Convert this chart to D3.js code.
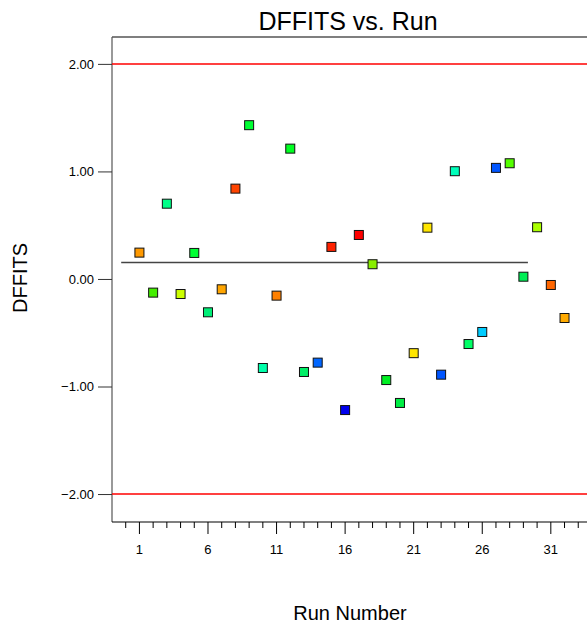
<!DOCTYPE html>
<html>
<head>
<meta charset="utf-8">
<script src="https://cdn.jsdelivr.net/npm/d3@7"></script>
<style>
  body { margin: 0; background: #fff; }
  text { font-family: "Liberation Sans", Arial, sans-serif; }
</style>
</head>
<body>
<div id="my_dataviz"></div>
<script>
// data
var runs = d3.range(1, 33);
var dffits = [0.245, -0.127, 0.70, -0.14, 0.242, -0.31, -0.096, 0.84,
              1.43, -0.828, -0.155, 1.212, -0.865, -0.778, 0.298, -1.219,
              0.409, 0.137, -0.94, -1.153, -0.69, 0.477, -0.89, 1.002,
              -0.605, -0.493, 1.033, 1.076, 0.021, 0.481, -0.056, -0.363];
var pointColors = ["#ff9900", "#44ee00", "#00ff88", "#ccff00", "#00ff33", "#00ee77", "#ffa500", "#ff4400",
                   "#00ff33", "#00ffaa", "#ff8000", "#00ff22", "#00ee66", "#0066ff", "#ff2200", "#0000ee",
                   "#ff0000", "#88ee00", "#00ee22", "#00ee44", "#ffe600", "#ffe600", "#0055ff", "#00ffbb",
                   "#00ff66", "#00ccff", "#0055ff", "#55ff00", "#00ee55", "#aaff00", "#ff6600", "#ffaa00"];
var limits = [2, -2];
var centerLineX = [-0.33, 29.33];
var centerLineY = 0.152;
var yTicks = [2, 1, 0, -1, -2];
var xMajorTicks = [1, 6, 11, 16, 21, 26, 31];

// dimensions
var width = 587, height = 627;
var plotLeft = 112, plotTop = 37, plotBottom = 522;

var svg = d3.select("#my_dataviz")
    .append("svg")
    .attr("width", width)
    .attr("height", height);

var x = d3.scaleLinear()
    .domain([-1, 34])
    .range([plotLeft, plotLeft + 35 * 13.713]);

var y = d3.scaleLinear()
    .domain([-2.26, 2.25])
    .range([plotBottom, plotTop]);

// frame: left and top border
svg.append("line")
    .attr("x1", plotLeft).attr("x2", plotLeft)
    .attr("y1", plotTop).attr("y2", plotBottom)
    .attr("stroke", "#777").attr("stroke-width", 1.5);
svg.append("line")
    .attr("x1", plotLeft).attr("x2", width)
    .attr("y1", plotTop).attr("y2", plotTop)
    .attr("stroke", "#555").attr("stroke-width", 1.5);

// Y axis
var yAxis = svg.append("g")
    .attr("transform", "translate(" + plotLeft + ",0)")
    .call(d3.axisLeft(y).tickValues(yTicks).tickSize(14).tickPadding(4)
        .tickFormat(d3.format(".2f")));
yAxis.select(".domain").remove();
yAxis.selectAll(".tick line").attr("stroke", "#333");
yAxis.selectAll("text").attr("font-size", 13).attr("fill", "#000")
    .style("font-family", "'Liberation Sans', Arial, sans-serif");

// X axis: minor ticks at every run, major every 5
var xAxis = svg.append("g")
    .attr("transform", "translate(0," + plotBottom + ")");
xAxis.append("line")
    .attr("x1", plotLeft).attr("x2", width)
    .attr("stroke", "#000").attr("stroke-width", 1.2);
xAxis.selectAll(".minor")
    .data(d3.range(0, 34))
    .enter().append("line")
    .attr("x1", function (d) { return x(d); })
    .attr("x2", function (d) { return x(d); })
    .attr("y1", 0)
    .attr("y2", function (d) { return xMajorTicks.indexOf(d) >= 0 ? 12 : 6; })
    .attr("stroke", "#000");
xAxis.selectAll(".lbl")
    .data(xMajorTicks)
    .enter().append("text")
    .attr("x", function (d) { return x(d); })
    .attr("y", 32)
    .attr("text-anchor", "middle")
    .attr("font-size", 13)
    .text(function (d) { return d; });

// limit lines
svg.selectAll(".limit")
    .data(limits)
    .enter().append("line")
    .attr("x1", plotLeft).attr("x2", width)
    .attr("y1", function (d) { return y(d); })
    .attr("y2", function (d) { return y(d); })
    .attr("stroke", "#ff0000").attr("stroke-width", 1.5);

// center line
svg.append("line")
    .attr("x1", x(centerLineX[0])).attr("x2", x(centerLineX[1]))
    .attr("y1", y(centerLineY)).attr("y2", y(centerLineY))
    .attr("stroke", "#444").attr("stroke-width", 1.5);

// points
var s = 9;
svg.selectAll(".pt")
    .data(runs)
    .enter().append("rect")
    .attr("x", function (d, i) { return x(d) - s / 2; })
    .attr("y", function (d, i) { return y(dffits[i]) - s / 2; })
    .attr("width", s).attr("height", s)
    .attr("fill", function (d, i) { return pointColors[i]; })
    .attr("stroke", "#111").attr("stroke-width", 1);

// titles
svg.append("text")
    .attr("x", 348).attr("y", 30)
    .attr("text-anchor", "middle")
    .attr("font-size", 25)
    .text("DFFITS vs. Run");
svg.append("text")
    .attr("x", 350).attr("y", 620)
    .attr("text-anchor", "middle")
    .attr("font-size", 20)
    .text("Run Number");
svg.append("text")
    .attr("transform", "translate(27,278) rotate(-90)")
    .attr("text-anchor", "middle")
    .attr("font-size", 20)
    .text("DFFITS");
</script>
</body>
</html>
